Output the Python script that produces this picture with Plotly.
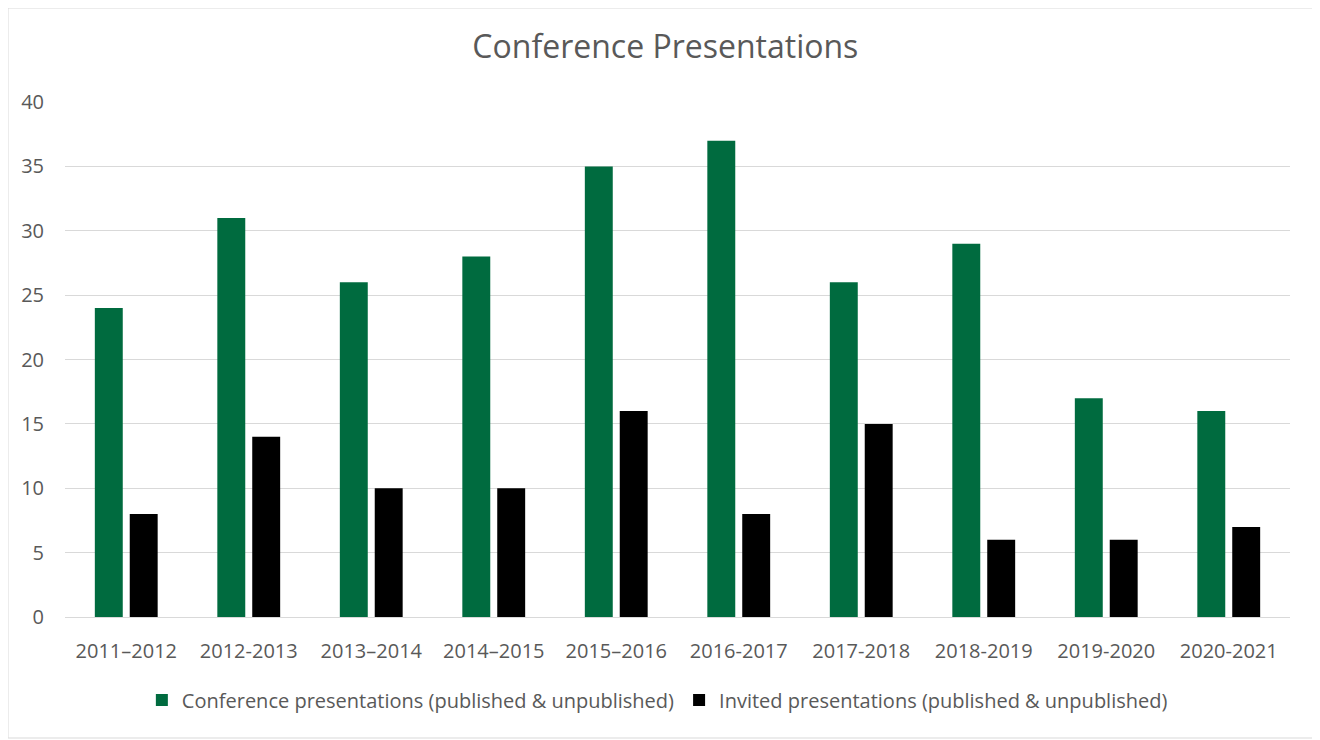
import plotly.graph_objects as go

categories = ["2011\u20132012", "2012-2013", "2013\u20132014", "2014\u20132015", "2015\u20132016",
              "2016-2017", "2017-2018", "2018-2019", "2019-2020", "2020-2021"]
conference = [24, 31, 26, 28, 35, 37, 26, 29, 17, 16]
invited = [8, 14, 10, 10, 16, 8, 15, 6, 6, 7]

FONT = "Open Sans, Liberation Sans, sans-serif"
GREY = "#595959"

# the page body adds an 8px offset, so margins are set 8px smaller on top/left
fig = go.Figure()
fig.add_trace(go.Bar(
    x=categories, y=conference,
    name="Conference presentations (published & unpublished)",
    marker=dict(color="#006B3F", line=dict(width=0)),
))
fig.add_trace(go.Bar(
    x=categories, y=invited,
    name="Invited presentations (published & unpublished)   ",
    marker=dict(color="#000000", line=dict(width=0)),
))

fig.update_layout(
    width=1320, height=740,
    paper_bgcolor="white", plot_bgcolor="white",
    barmode="group", bargap=0.43, bargroupgap=0.2,
    margin=dict(l=57, r=38, t=94, b=131),
    font=dict(family=FONT, color=GREY, size=20),
    title=dict(text="Conference Presentations", x=0.498, xanchor="center",
               y=1 - 39 / 740, yanchor="middle",
               font=dict(family=FONT, size=32, color=GREY)),
    xaxis=dict(showgrid=False, showline=True, linecolor="#d9d9d9", linewidth=1,
               ticks="", automargin=False, ticklabelstandoff=16,
               tickfont=dict(size=20, color=GREY)),
    yaxis=dict(range=[0, 40], dtick=5, showgrid=True, gridcolor="#d9d9d9",
               gridwidth=1, zeroline=False, showline=False, ticks="",
               automargin=False, ticklabelstandoff=20,
               tickfont=dict(size=20, color=GREY)),
    legend=dict(orientation="h", x=0.498, xanchor="center", xref="container",
                y=1 - 692 / 740, yanchor="middle", yref="container",
                font=dict(size=20, color=GREY), itemwidth=30, traceorder="normal"),
    shapes=[dict(type="rect", xref="paper", yref="paper",
                 x0=-57 / 1225, x1=1 + 28 / 1225,
                 y0=-121 / 515, y1=1 + 94 / 515,
                 line=dict(color="#d9d9d9", width=1))],
)

fig.write_html("out.html")
